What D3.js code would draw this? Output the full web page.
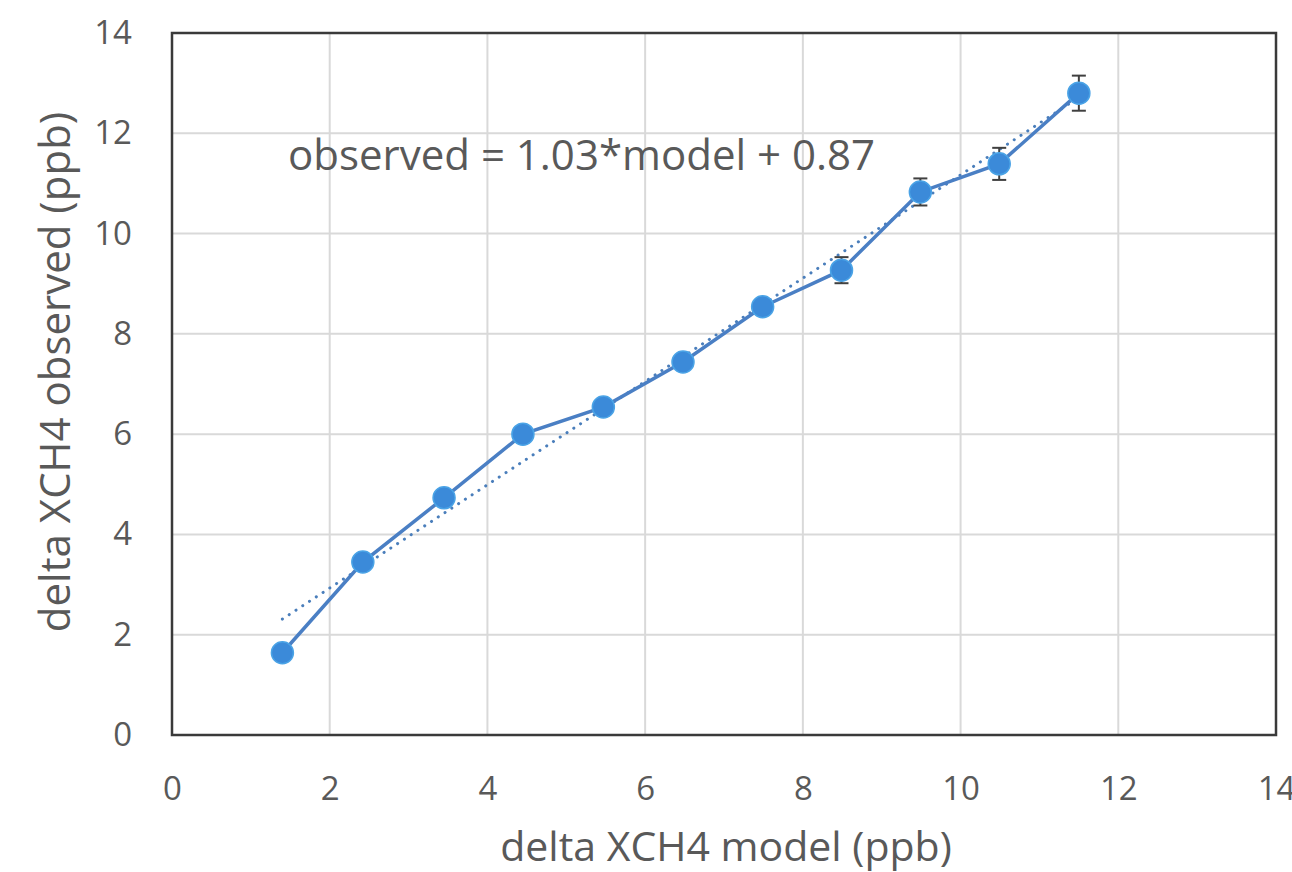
<!DOCTYPE html>
<html><head><meta charset="utf-8">
<script src="https://cdn.jsdelivr.net/npm/d3@7"></script>
<style>body{margin:0;background:#fff;}svg{display:block;font-family:"Open Sans",Lato,sans-serif;}</style>
</head><body>
<svg id="c" width="1292" height="872"></svg>
<script>
const modelX = [1.40, 2.42, 3.45, 4.45, 5.47, 6.48, 7.49, 8.49, 9.49, 10.49, 11.50];
const observedY = [1.64, 3.45, 4.73, 6.00, 6.54, 7.44, 8.54, 9.27, 10.83, 11.39, 12.80];
const errY = [0.08, 0.08, 0.08, 0.08, 0.08, 0.08, 0.15, 0.26, 0.27, 0.32, 0.35];
const ticks = [0, 2, 4, 6, 8, 10, 12, 14];
const slope = 1.03, intercept = 0.87;
const equationText = "observed = 1.03*model + 0.87";
const xTitle = "delta XCH4 model (ppb)";
const yTitle = "delta XCH4 observed (ppb)";

const svg = d3.select("#c");
const L = 172, R = 1276, T = 33, B = 735;
const x = d3.scaleLinear().domain([0, 14]).range([L, R]);
const y = d3.scaleLinear().domain([0, 14]).range([B, T]);
const textCol = "#595959";

// gridlines
svg.append("g").selectAll("line.v").data(ticks.slice(1, -1)).join("line")
  .attr("x1", d => x(d)).attr("x2", d => x(d)).attr("y1", T).attr("y2", B)
  .attr("stroke", "#d9d9d9").attr("stroke-width", 2);
svg.append("g").selectAll("line.h").data(ticks.slice(1, -1)).join("line")
  .attr("y1", d => y(d)).attr("y2", d => y(d)).attr("x1", L).attr("x2", R)
  .attr("stroke", "#d9d9d9").attr("stroke-width", 2);

// frame
svg.append("rect").attr("x", L).attr("y", T).attr("width", R - L).attr("height", B - T)
  .attr("fill", "none").attr("stroke", "#3a3a3a").attr("stroke-width", 2.5);

// axes (labels only)
const xAxis = d3.axisBottom(x).tickValues(ticks).tickSize(0).tickPadding(42);
const gx = svg.append("g").attr("transform", `translate(0,${B})`).call(xAxis);
gx.select(".domain").remove();
gx.selectAll("text").attr("fill", textCol).style("font-size", "33px").style("font-family", "'Open Sans',sans-serif");
const yAxis = d3.axisLeft(y).tickValues(ticks).tickSize(0).tickPadding(40);
const gy = svg.append("g").attr("transform", `translate(${L},0)`).call(yAxis);
gy.select(".domain").remove();
gy.selectAll("text").attr("fill", textCol).style("font-size", "33px").style("font-family", "'Open Sans',sans-serif");

// trendline
const x0 = modelX[0], x1 = modelX[modelX.length - 1];
svg.append("line")
  .attr("x1", x(x0)).attr("y1", y(slope * x0 + intercept))
  .attr("x2", x(x1)).attr("y2", y(slope * x1 + intercept))
  .attr("stroke", "#4a7ebb").attr("stroke-width", 3).attr("stroke-dasharray", "0.1 8")
  .attr("stroke-linecap", "round");

// series line
const pts = modelX.map((d, i) => ({x: d, y: observedY[i], e: errY[i]}));
svg.append("path").datum(pts)
  .attr("d", d3.line().x(d => x(d.x)).y(d => y(d.y)))
  .attr("fill", "none").attr("stroke", "#4a7fc4").attr("stroke-width", 3.5);

// error bars
const eb = svg.append("g").attr("stroke", "#404040").attr("stroke-width", 2);
eb.selectAll("line.s").data(pts).join("line")
  .attr("x1", d => x(d.x)).attr("x2", d => x(d.x))
  .attr("y1", d => y(d.y - d.e)).attr("y2", d => y(d.y + d.e));
eb.selectAll("line.t").data(pts).join("line")
  .attr("x1", d => x(d.x) - 7).attr("x2", d => x(d.x) + 7)
  .attr("y1", d => y(d.y + d.e)).attr("y2", d => y(d.y + d.e));
eb.selectAll("line.b").data(pts).join("line")
  .attr("x1", d => x(d.x) - 7).attr("x2", d => x(d.x) + 7)
  .attr("y1", d => y(d.y - d.e)).attr("y2", d => y(d.y - d.e));

// markers
svg.append("g").selectAll("circle").data(pts).join("circle")
  .attr("cx", d => x(d.x)).attr("cy", d => y(d.y)).attr("r", 11)
  .attr("fill", "#3b8ad9").attr("stroke", "#4aa3e6").attr("stroke-width", 1.5);

// equation
svg.append("text").attr("x", 288).attr("y", 170).text(equationText)
  .attr("fill", textCol).style("font-size", "42px");

// axis titles
svg.append("text").attr("x", 726).attr("y", 861).attr("text-anchor", "middle")
  .text(xTitle).attr("fill", textCol).style("font-size", "41px");
svg.append("text").attr("transform", `translate(70,372) rotate(-90)`).attr("text-anchor", "middle")
  .text(yTitle).attr("fill", textCol).style("font-size", "42px");
</script>
</body></html>
